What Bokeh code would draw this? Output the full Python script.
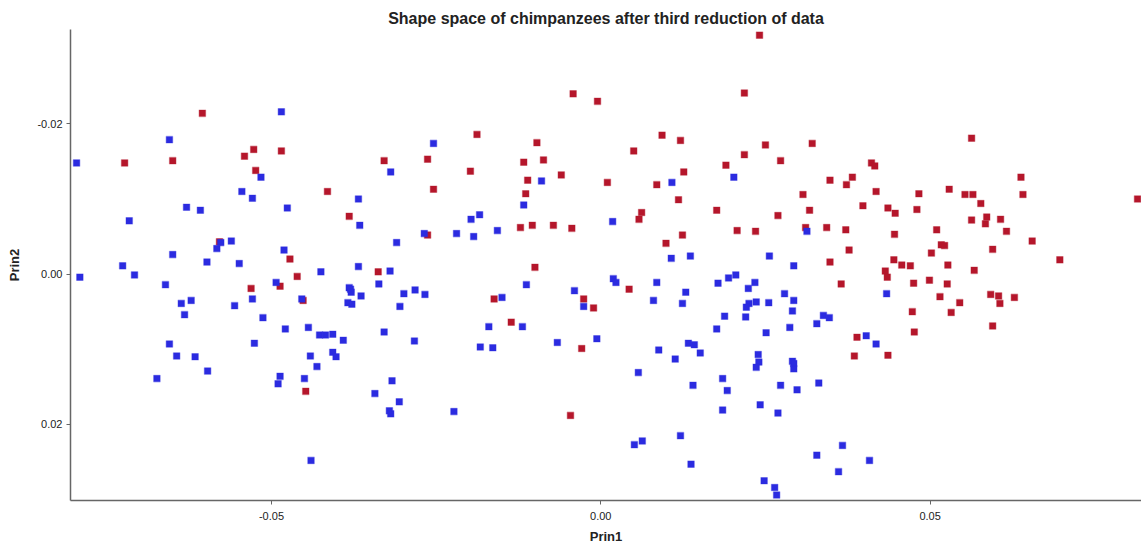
from bokeh.plotting import figure
from bokeh.models import Range1d, FixedTicker, PrintfTickFormatter
from bokeh.embed import file_html
from bokeh.resources import INLINE

# Group 1 (red)
red_prin1 = [-0.0723,-0.0650,-0.0605,-0.0541,-0.0527,-0.0485,-0.0524,-0.0415,-0.0382,-0.0329,
             -0.0579,-0.0472,-0.0461,-0.0338,-0.0531,-0.0487,-0.0452,-0.0448,0.0241,-0.0042,
             -0.0005,0.0218,-0.0188,-0.0097,0.0093,0.0121,0.0050,0.0250,0.0273,-0.0263,
             -0.0198,-0.0117,-0.0087,-0.0254,-0.0111,-0.0060,-0.0114,0.0010,0.0085,0.0126,
             0.0190,0.0218,0.0118,0.0062,0.0058,0.0176,0.0269,-0.0263,-0.0122,-0.0104,
             -0.0072,-0.0044,0.0099,0.0124,0.0207,0.0235,-0.0100,-0.0162,-0.0136,-0.0026,
             -0.0011,-0.0029,0.0043,-0.0046,0.0321,0.0563,0.0411,0.0416,0.0348,0.0373,
             0.0382,0.0307,0.0418,0.0483,0.0529,0.0553,0.0565,0.0638,0.0641,0.0577,
             0.0815,0.0317,0.0398,0.0436,0.0447,0.0480,0.0563,0.0586,0.0584,0.0607,
             0.0616,0.0311,0.0343,0.0372,0.0446,0.0510,0.0517,0.0522,0.0502,0.0595,
             0.0655,0.0377,0.0348,0.0445,0.0457,0.0470,0.0527,0.0567,0.0697,0.0432,
             0.0435,0.0499,0.0365,0.0475,0.0526,0.0515,0.0545,0.0592,0.0604,0.0628,
             0.0606,0.0473,0.0532,0.0595,0.0476,0.0389,0.0385,0.0436]
red_prin2 = [-0.0148,-0.0151,-0.0214,-0.0157,-0.0166,-0.0164,-0.0138,-0.0110,-0.0077,-0.0151,
             -0.0043,-0.0020,0.0003,-0.0003,0.0019,0.0016,0.0035,0.0156,-0.0318,-0.0240,
             -0.0230,-0.0241,-0.0186,-0.0175,-0.0185,-0.0178,-0.0164,-0.0172,-0.0151,-0.0153,
             -0.0137,-0.0149,-0.0152,-0.0113,-0.0125,-0.0132,-0.0107,-0.0122,-0.0119,-0.0136,
             -0.0145,-0.0159,-0.0099,-0.0082,-0.0073,-0.0085,-0.0078,-0.0052,-0.0062,-0.0065,
             -0.0065,-0.0061,-0.0041,-0.0052,-0.0058,-0.0057,-0.0009,0.0033,0.0064,0.0033,
             0.0045,0.0099,0.0020,0.0188,-0.0174,-0.0181,-0.0148,-0.0144,-0.0125,-0.0119,
             -0.0129,-0.0106,-0.0110,-0.0107,-0.0113,-0.0106,-0.0106,-0.0129,-0.0106,-0.0094,
             -0.0100,-0.0085,-0.0091,-0.0088,-0.0081,-0.0086,-0.0072,-0.0076,-0.0067,-0.0073,
             -0.0057,-0.0062,-0.0062,-0.0059,-0.0053,-0.0059,-0.0039,-0.0038,-0.0028,-0.0033,
             -0.0044,-0.0032,-0.0016,-0.0019,-0.0012,-0.0011,-0.0012,-0.0005,-0.0019,-0.0004,
             0.0004,0.0008,0.0013,0.0012,0.0013,0.0030,0.0038,0.0027,0.0029,0.0031,
             0.0039,0.0050,0.0051,0.0069,0.0077,0.0084,0.0109,0.0108]

# Group 2 (blue)
blue_prin1 = [-0.0796,-0.0655,-0.0485,-0.0516,-0.0545,-0.0529,-0.0629,-0.0608,-0.0476,-0.0368,
              -0.0366,-0.0319,-0.0716,-0.0577,-0.0561,-0.0583,-0.0481,-0.0650,-0.0598,-0.0549,
              -0.0310,-0.0726,-0.0708,-0.0791,-0.0425,-0.0368,-0.0320,-0.0493,-0.0661,-0.0637,
              -0.0622,-0.0632,-0.0556,-0.0529,-0.0513,-0.0454,-0.0479,-0.0444,-0.0427,-0.0418,
              -0.0407,-0.0391,-0.0382,-0.0380,-0.0379,-0.0364,-0.0384,-0.0378,-0.0337,-0.0305,
              -0.0329,-0.0526,-0.0655,-0.0644,-0.0616,-0.0597,-0.0674,-0.0441,-0.0407,-0.0402,
              -0.0431,-0.0487,-0.0490,-0.0450,-0.0317,-0.0343,-0.0321,-0.0319,-0.0306,-0.0440,
              -0.0254,-0.0090,0.0108,0.0202,-0.0117,0.0018,-0.0197,-0.0184,-0.0268,-0.0219,
              -0.0193,-0.0157,0.0107,0.0136,0.0256,-0.0299,-0.0282,-0.0267,-0.0283,-0.0113,
              -0.0150,-0.0119,-0.0170,-0.0183,-0.0164,-0.0040,-0.0026,-0.0066,-0.0006,0.0019,
              0.0023,0.0085,0.0129,0.0080,0.0124,0.0088,0.0113,0.0133,0.0142,0.0151,
              0.0178,0.0194,0.0205,0.0234,0.0224,0.0225,0.0221,0.0236,0.0255,0.0188,
              0.0220,0.0176,0.0251,0.0239,0.0240,0.0236,0.0057,0.0140,0.0185,0.0192,
              0.0185,0.0242,0.0269,0.0273,-0.0223,0.0051,0.0063,0.0121,0.0137,0.0248,
              0.0264,0.0267,0.0293,0.0279,0.0293,0.0291,0.0434,0.0328,0.0338,0.0347,
              0.0287,0.0403,0.0418,0.0291,0.0293,0.0293,0.0298,0.0331,0.0367,0.0328,
              0.0408,0.0361,0.0313]
blue_prin2 = [-0.0148,-0.0179,-0.0216,-0.0129,-0.0110,-0.0101,-0.0089,-0.0085,-0.0088,-0.0100,
              -0.0065,-0.0136,-0.0071,-0.0042,-0.0044,-0.0034,-0.0032,-0.0026,-0.0016,-0.0014,
              -0.0042,-0.0011,0.0001,0.0004,-0.0003,-0.0010,-0.0004,0.0011,0.0014,0.0039,
              0.0035,0.0054,0.0042,0.0033,0.0058,0.0033,0.0073,0.0071,0.0081,0.0081,
              0.0080,0.0088,0.0018,0.0020,0.0024,0.0029,0.0038,0.0040,0.0013,0.0043,
              0.0077,0.0092,0.0093,0.0109,0.0110,0.0129,0.0139,0.0109,0.0104,0.0110,
              0.0123,0.0136,0.0146,0.0139,0.0142,0.0159,0.0182,0.0186,0.0170,0.0248,
              -0.0174,-0.0124,-0.0122,-0.0129,-0.0092,-0.0070,-0.0073,-0.0079,-0.0054,-0.0054,
              -0.0050,-0.0058,-0.0021,-0.0024,-0.0024,0.0026,0.0021,0.0027,0.0089,0.0014,
              0.0031,0.0070,0.0070,0.0097,0.0098,0.0022,0.0043,0.0091,0.0086,0.0006,
              0.0011,0.0011,0.0024,0.0035,0.0039,0.0101,0.0113,0.0092,0.0094,0.0105,
              0.0012,0.0005,0.0001,0.0011,0.0019,0.0039,0.0044,0.0037,0.0038,0.0056,
              0.0057,0.0073,0.0078,0.0107,0.0117,0.0124,0.0131,0.0148,0.0139,0.0155,
              0.0181,0.0174,0.0185,0.0148,0.0183,0.0227,0.0222,0.0215,0.0253,0.0275,
              0.0284,0.0294,-0.0011,0.0026,0.0035,0.0049,0.0026,0.0066,0.0055,0.0058,
              0.0071,0.0082,0.0093,0.0116,0.0119,0.0126,0.0154,0.0145,0.0228,0.0241,
              0.0248,0.0263,-0.0057]

x_ticks = [-0.05, 0.0, 0.05]
y_ticks = [-0.02, 0.0, 0.02]

FONT = "Liberation Sans"

p = figure(width=1141, height=546, output_backend="svg", toolbar_location=None,
           x_range=Range1d(-0.08052, 0.0821), y_range=Range1d(0.03013, -0.03256),
           min_border_left=70, min_border_right=0, min_border_top=29, min_border_bottom=45,
           title="Shape space of chimpanzees after third reduction of data")
p.title.align = "center"
p.title.text_font = FONT
p.title.text_font_size = "16px"
p.title.text_font_style = "bold"
p.title.text_color = "#222222"
p.title.standoff = 6

p.outline_line_color = None
p.xgrid.visible = False
p.ygrid.visible = False
p.background_fill_color = "white"
p.border_fill_color = "white"

for ax in (p.xaxis[0], p.yaxis[0]):
    ax.axis_line_color = "#666666"
    ax.axis_line_width = 1.5
    ax.major_tick_line_color = "#666666"
    ax.major_tick_out = 4
    ax.major_tick_in = 0
    ax.minor_tick_line_color = None
    ax.major_label_text_font = FONT
    ax.major_label_text_font_size = "11px"
    ax.major_label_text_color = "#222222"
    ax.axis_label_text_font = FONT
    ax.axis_label_text_font_size = "13px"
    ax.axis_label_text_font_style = "bold"
    ax.axis_label_text_color = "#222222"
    ax.formatter = PrintfTickFormatter(format="%.2f")

p.xaxis.ticker = FixedTicker(ticks=x_ticks)
p.yaxis.ticker = FixedTicker(ticks=y_ticks)
p.xaxis.axis_label = "Prin1"
p.yaxis.axis_label = "Prin2"
p.xaxis.major_label_standoff = 7
p.xaxis.axis_label_standoff = 6
p.yaxis.major_label_standoff = 4
p.yaxis.axis_label_standoff = 12

p.scatter(red_prin1, red_prin2, marker="square", size=6.5, fill_color="#b5162b",
          line_color="#b5162b", line_alpha=0.35, line_width=1.2)
p.scatter(blue_prin1, blue_prin2, marker="square", size=6.5, fill_color="#2b2be0",
          line_color="#2b2be0", line_alpha=0.35, line_width=1.2)

open("out.html", "w").write(file_html(p, INLINE))
